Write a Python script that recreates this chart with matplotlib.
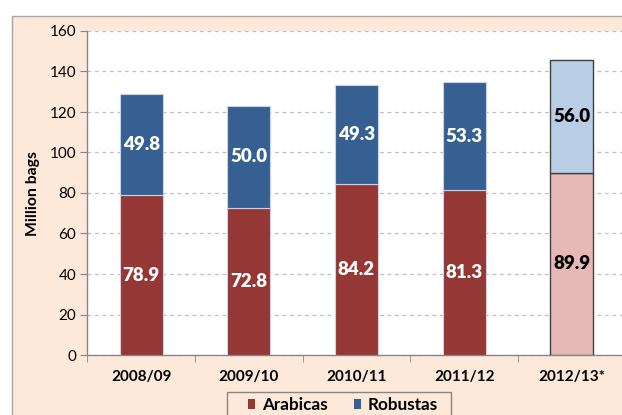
import matplotlib
matplotlib.use("Agg")
import matplotlib.pyplot as plt
from matplotlib.patches import Rectangle, Patch
from matplotlib.font_manager import FontProperties

categories = ["2008/09", "2009/10", "2010/11", "2011/12", "2012/13*"]
arabicas = [78.9, 72.8, 84.2, 81.3, 89.9]
robustas = [49.8, 50.0, 49.3, 53.3, 56.0]
yticks = [0, 20, 40, 60, 80, 100, 120, 140, 160]

plt.rcParams['font.family'] = ['Lato', 'DejaVu Sans']

W, H = 622, 415
fig = plt.figure(figsize=(W/100, H/100), dpi=100, facecolor='white')

# peach background panel
bg = Rectangle((12/W, -0.01), 1.0, 1 - 16/H + 0.01, transform=fig.transFigure,
               facecolor='#FDE9D9', edgecolor='#A6A6A6', linewidth=1.0, zorder=-5)
fig.patches.append(bg)

left = 87.3/W
bottom = 1 - 355/H
top = 1 - 31/H
ax = fig.add_axes([left, bottom, 1.006 - left, top - bottom])
ax.set_facecolor('white')
ax.set_zorder(1)

ar_colors = ['#953735'] * 4 + ['#E6B9B8']
ro_colors = ['#366092'] * 4 + ['#B9CDE5']
edge_colors = ['#C8D4E3'] * 4 + ['#404040']
txt_colors = ['white'] * 4 + ['black']

x = list(range(len(categories)))
w = 0.4
for i in x:
    ax.bar(i, arabicas[i], width=w, color=ar_colors[i], edgecolor=edge_colors[i],
           linewidth=0.8 if i < 4 else 1.0, zorder=3)
    ax.bar(i, robustas[i], bottom=arabicas[i], width=w, color=ro_colors[i],
           edgecolor=edge_colors[i], linewidth=0.8 if i < 4 else 1.0, zorder=3)
    ax.text(i, arabicas[i]/2, f"{arabicas[i]:.1f}", ha='center', va='center',
            color=txt_colors[i], fontsize=13.5, fontweight='heavy', zorder=4)
    ax.text(i, arabicas[i] + robustas[i]/2, f"{robustas[i]:.1f}", ha='center', va='center',
            color=txt_colors[i], fontsize=13.5, fontweight='heavy', zorder=4)

ax.set_xlim(-0.5, 4.5)
ax.set_ylim(0, 160)
ax.set_yticks(yticks)
ax.set_yticklabels([str(t) for t in yticks], fontsize=11)
ax.set_xticks(x)
ax.set_xticklabels(categories, fontsize=11, fontweight='bold')
ax.set_xticks([i + 0.5 for i in range(-1, 5)], minor=True)
ax.tick_params(axis='x', which='major', length=0, pad=11)
ax.tick_params(axis='x', which='minor', length=5, color='#868686', direction='out')
ax.tick_params(axis='y', length=5, color='#868686', direction='out', pad=3)

ax.yaxis.grid(True, linestyle=(0, (3, 3)), color='#BFBFBF', linewidth=0.9, zorder=0)
ax.set_axisbelow(True)
for s in ['top', 'right']:
    ax.spines[s].set_visible(False)
for s in ['left', 'bottom']:
    ax.spines[s].set_color('#868686')
    ax.spines[s].set_linewidth(1.0)

ax.set_ylabel("Million bags", fontsize=11.3, fontweight='bold', labelpad=7)

# legend frame
lf = Rectangle((227/W, -0.01), (451 - 227)/W, (1 - 392/H) + 0.01, transform=fig.transFigure,
               facecolor='#FDE9D9', edgecolor='#868686', linewidth=1.0, zorder=4)
fig.patches.append(lf)

handles = [Patch(facecolor='#953735', edgecolor='none', label='Arabicas'),
           Patch(facecolor='#366092', edgecolor='none', label='Robustas')]
fp = FontProperties(family=['Lato', 'DejaVu Sans'], weight='bold', size=12.3)
leg = fig.legend(handles=handles, loc='center', bbox_to_anchor=(343/W, 1 - 405/H),
                 ncol=2, frameon=False,
                 prop=fp, handlelength=0.45, handleheight=0.45,
                 handletextpad=0.4, columnspacing=1.5, borderpad=0, borderaxespad=0)
leg.set_zorder(6)
for t in leg.get_texts():
    t.set_fontweight('bold')

fig.savefig("out.png", dpi=100, facecolor='white')
